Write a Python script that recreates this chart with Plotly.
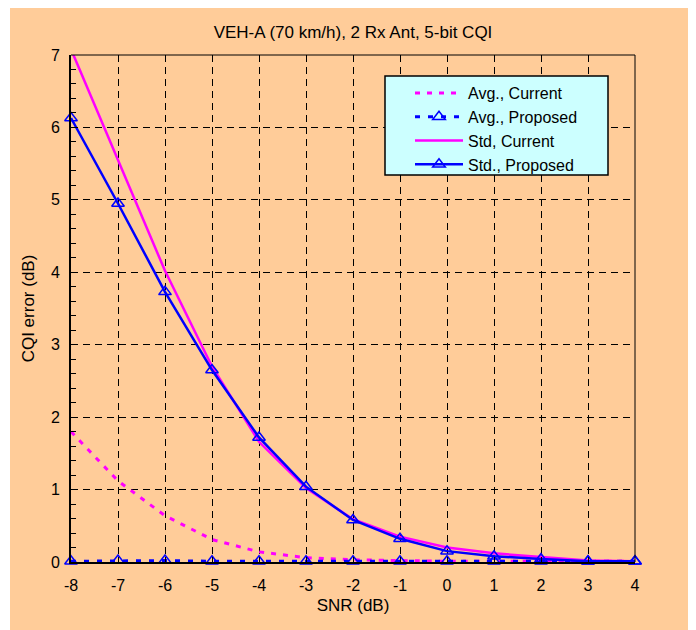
import plotly.graph_objects as go

snr = [-8, -7, -6, -5, -4, -3, -2, -1, 0, 1, 2, 3, 4]
avg_current = [1.80, 1.12, 0.64, 0.31, 0.14, 0.06, 0.03, 0.015, 0.01, 0.01, 0.01, 0.01, 0.01]
avg_proposed = [0.01, 0.02, 0.02, 0.01, 0.01, 0.01, 0.01, 0.01, 0.01, 0.01, 0.01, 0.01, 0.01]
std_current = [7.08, 5.55, 4.02, 2.70, 1.66, 1.02, 0.59, 0.35, 0.20, 0.12, 0.07, 0.02, 0.01]
std_proposed = [6.13, 4.95, 3.73, 2.65, 1.72, 1.04, 0.58, 0.32, 0.15, 0.08, 0.04, 0.01, 0.01]
yticks = [0, 1, 2, 3, 4, 5, 6, 7]

MAG = "#FF00FF"
BLUE = "#0000FF"
FONT = "Liberation Sans, Arial, sans-serif"

fig = go.Figure()
fig.add_trace(go.Scatter(x=snr, y=avg_current, name="Avg., Current", mode="lines",
                         line=dict(color=MAG, width=3, dash="5px,7px")))
fig.add_trace(go.Scatter(x=snr, y=avg_proposed, name="Avg., Proposed", mode="lines+markers",
                         line=dict(color=BLUE, width=3, dash="5px,8px"),
                         marker=dict(symbol="triangle-up-open", size=11, color=BLUE, line=dict(width=1.5)),
                         cliponaxis=False))
fig.add_trace(go.Scatter(x=snr, y=std_current, name="Std, Current", mode="lines",
                         line=dict(color=MAG, width=2.5)))
fig.add_trace(go.Scatter(x=snr, y=std_proposed, name="Std., Proposed", mode="lines+markers",
                         line=dict(color=BLUE, width=2.5),
                         marker=dict(symbol="triangle-up-open", size=11, color=BLUE, line=dict(width=1.5)),
                         cliponaxis=False))

# page body adds an 8px offset; figure coords = window coords - 8
OFF = 8
W, H = 696 - OFF, 630 - OFF
L, R, T, B = 71 - OFF, 635 - OFF, 55 - OFF, 562 - OFF
pw, ph = R - L, B - T

def fx(px):
    return (px - OFF - L) / pw

def fy(py):
    return (B - (py - OFF)) / ph

# peach background rectangle
fig.add_shape(type="rect", xref="paper", yref="paper",
              x0=fx(10), x1=fx(688), y0=fy(660), y1=fy(-10),
              fillcolor="#FFCC99", line=dict(width=0), layer="below")

# legend box
fig.add_shape(type="rect", xref="paper", yref="paper",
              x0=fx(385), x1=fx(608), y0=fy(175), y1=fy(76),
              fillcolor="#CCFFFF", line=dict(color="black", width=1.5), layer="above")

fig.update_layout(
    width=W, height=H,
    margin=dict(l=L, r=W - R, t=T, b=H - B, pad=0),
    paper_bgcolor="white",
    plot_bgcolor="white",
    font=dict(family=FONT, color="black"),
    title=dict(text="VEH-A (70 km/h), 2 Rx Ant, 5-bit CQI", x=fx(353), xref="paper",
               xanchor="center", y=1 - (32 - OFF) / H, yanchor="middle", font=dict(size=17, family=FONT)),
    showlegend=True,
    legend=dict(x=fx(410), y=fy(76), xanchor="left", yanchor="top",
                bgcolor="rgba(0,0,0,0)", borderwidth=0,
                font=dict(size=16, family=FONT), itemwidth=48,
                tracegroupgap=0),
)

fig.update_xaxes(range=[-8, 4], tickmode="array", tickvals=snr, ticktext=[str(v) for v in snr],
                 showgrid=True, gridcolor="black", griddash="7px,5px", gridwidth=1,
                 showline=True, linecolor="black", linewidth=2, mirror=False,
                 ticks="inside", ticklen=5, tickcolor="black", ticklabelstandoff=8,
                 tickfont=dict(size=16, family=FONT), zeroline=False,
                 title=dict(text="SNR (dB)", font=dict(size=17, family=FONT), standoff=6))
fig.update_yaxes(range=[0, 7], tickmode="array", tickvals=yticks, ticktext=[str(v) for v in yticks],
                 showgrid=True, gridcolor="black", griddash="7px,5px", gridwidth=1,
                 showline=True, linecolor="black", linewidth=2, mirror=False,
                 ticks="inside", ticklen=7, tickcolor="black", ticklabelstandoff=6,
                 minor=dict(dtick=0.2, ticks="inside", ticklen=5, tickcolor="black", showgrid=False),
                 tickfont=dict(size=16, family=FONT), zeroline=False,
                 title=dict(text="CQI error (dB)", font=dict(size=17, family=FONT), standoff=12))

# thin top and right frame lines
fig.add_shape(type="line", xref="paper", yref="paper", x0=0, x1=1, y0=1, y1=1,
              line=dict(color="black", width=1))
fig.add_shape(type="line", xref="paper", yref="paper", x0=1, x1=1, y0=0, y1=1,
              line=dict(color="black", width=1))

fig.write_html("out.html")
